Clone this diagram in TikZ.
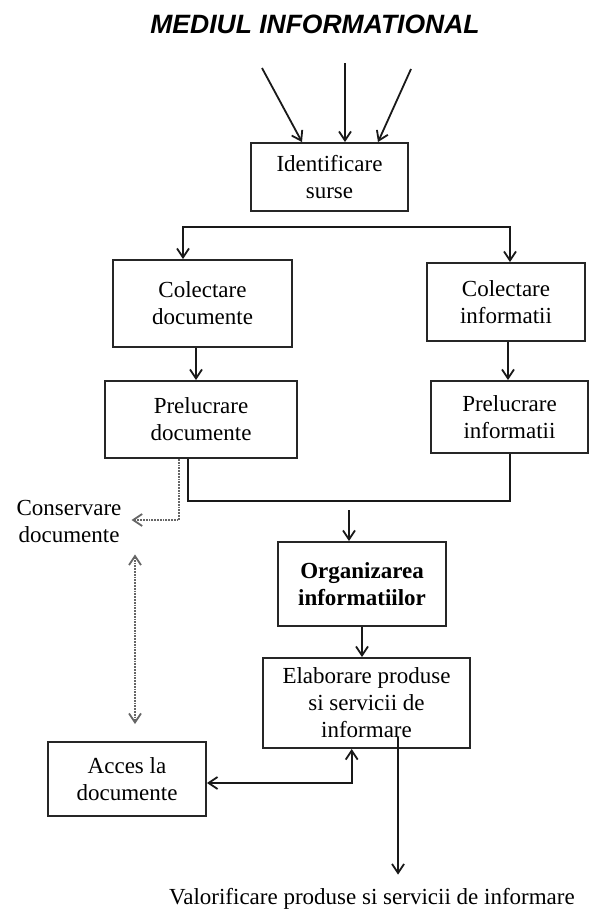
\documentclass[tikz,border=0pt]{standalone}
\usepackage{fontspec}
\setmainfont{Liberation Serif}
\newfontfamily\titlefont{Liberation Sans}
\usetikzlibrary{arrows.meta,calc}
\begin{document}
\begin{tikzpicture}[x=1pt,y=-1pt,
  txt/.style={font=\fontsize{23}{27}\selectfont},
  box/.style={txt, draw=black!85, line width=1.9pt, align=center, inner sep=0pt},
  lbl/.style={txt, align=center, inner sep=0pt},
  conn/.style={line width=1.8pt, draw=black!90},
  tip/.tip={Straight Barb[length=9pt,width=12pt]},
  arr/.style={conn, -tip},
  arrb/.style={conn, tip-tip},
  dotarr/.style={line width=1.8pt, draw=black!60, densely dotted, -tip},
  dotarrb/.style={line width=1.8pt, draw=black!60, densely dotted, tip-tip}
]
\useasboundingbox (0,0) rectangle (589,910);

% title
\node[anchor=base, inner sep=0pt, font=\titlefont\bfseries\itshape\fontsize{26.5}{30}\selectfont] (title) at (315,33) {MEDIUL INFORMATIONAL};

% boxes
\node[box, minimum width=157pt, minimum height=68pt] (ident) at (329.5,177) {Identificare\\surse};
\node[box, minimum width=179pt, minimum height=87pt] (coldoc) at (202.5,303.5) {Colectare\\documente};
\node[box, minimum width=158pt, minimum height=78pt] (colinf) at (506,302) {Colectare\\informatii};
\node[box, minimum width=192pt, minimum height=77pt] (predoc) at (201,419.5) {Prelucrare\\documente};
\node[box, minimum width=157pt, minimum height=72pt] (preinf) at (509.5,417) {Prelucrare\\informatii};
\node[box, minimum width=168pt, minimum height=84pt, font=\fontsize{23}{27}\selectfont\bfseries] (org) at (362,584) {Organizarea\\informatiilor};
\node[box, minimum width=207pt, minimum height=90pt] (elab) at (366.5,703) {Elaborare produse\\si servicii de\\informare};
\node[box, minimum width=158pt, minimum height=74pt] (acces) at (127,779) {Acces la\\documente};

% free labels
\node[lbl] (cons) at (69,521) {Conservare\\documente};
\node[lbl, anchor=base] (valor) at (372,904) {Valorificare produse si servicii de informare};

% input arrows
\coordinate (in1) at (262,68);
\coordinate (in2) at (345,63);
\coordinate (in3) at (411,69);
\draw[arr] (in1) -- ($(ident.north)+(-27.5,0)$);
\draw[arr] (in2) -- (in2 |- ident.north);
\draw[arr] (in3) -- ($(ident.north)+(48.5,0)$);

% branch to the two collection boxes
\coordinate (brL) at (183,227);
\coordinate (brR) at (510,227);
\draw[arrb] (brL |- coldoc.north) -- (brL) -- (brR) -- (brR |- colinf.north);

% collection -> processing
\coordinate (xa) at (196,0);
\coordinate (xb) at (508,0);
\draw[arr] (xa |- coldoc.south) -- (xa |- predoc.north);
\draw[arr] (xb |- colinf.south) -- (xb |- preinf.north);

% merge
\coordinate (mL) at (188,501);
\coordinate (mR) at (510,501);
\draw[conn] (mL |- predoc.south) -- (mL) -- (mR) -- (mR |- preinf.south);

% to organizing
\coordinate (oin) at (349,510);
\draw[arr] (oin) -- (oin |- org.north);
\draw[arr] (org.south) -- (org.south |- elab.north);

% elab <-> acces
\coordinate (aE) at (351.7,783);
\draw[arrb] (acces.east |- aE) -- (aE) -- (aE |- elab.south);

% elab -> valorificare
\coordinate (vTop) at (398,737);
\draw[arr, shorten >=13pt] (vTop) -- (vTop |- valor.north);

% dotted: prelucrare documente -> conservare
\coordinate (dv) at (179,520);
\draw[dotarr, shorten >=10pt] (dv |- predoc.south) -- (dv) -- (cons.east |- dv);

% dotted: conservare <-> acces
\coordinate (dd) at (135,0);
\draw[dotarrb, shorten <=12pt, shorten >=17pt] (dd |- cons.south) -- (dd |- acces.north);
\end{tikzpicture}
\end{document}
